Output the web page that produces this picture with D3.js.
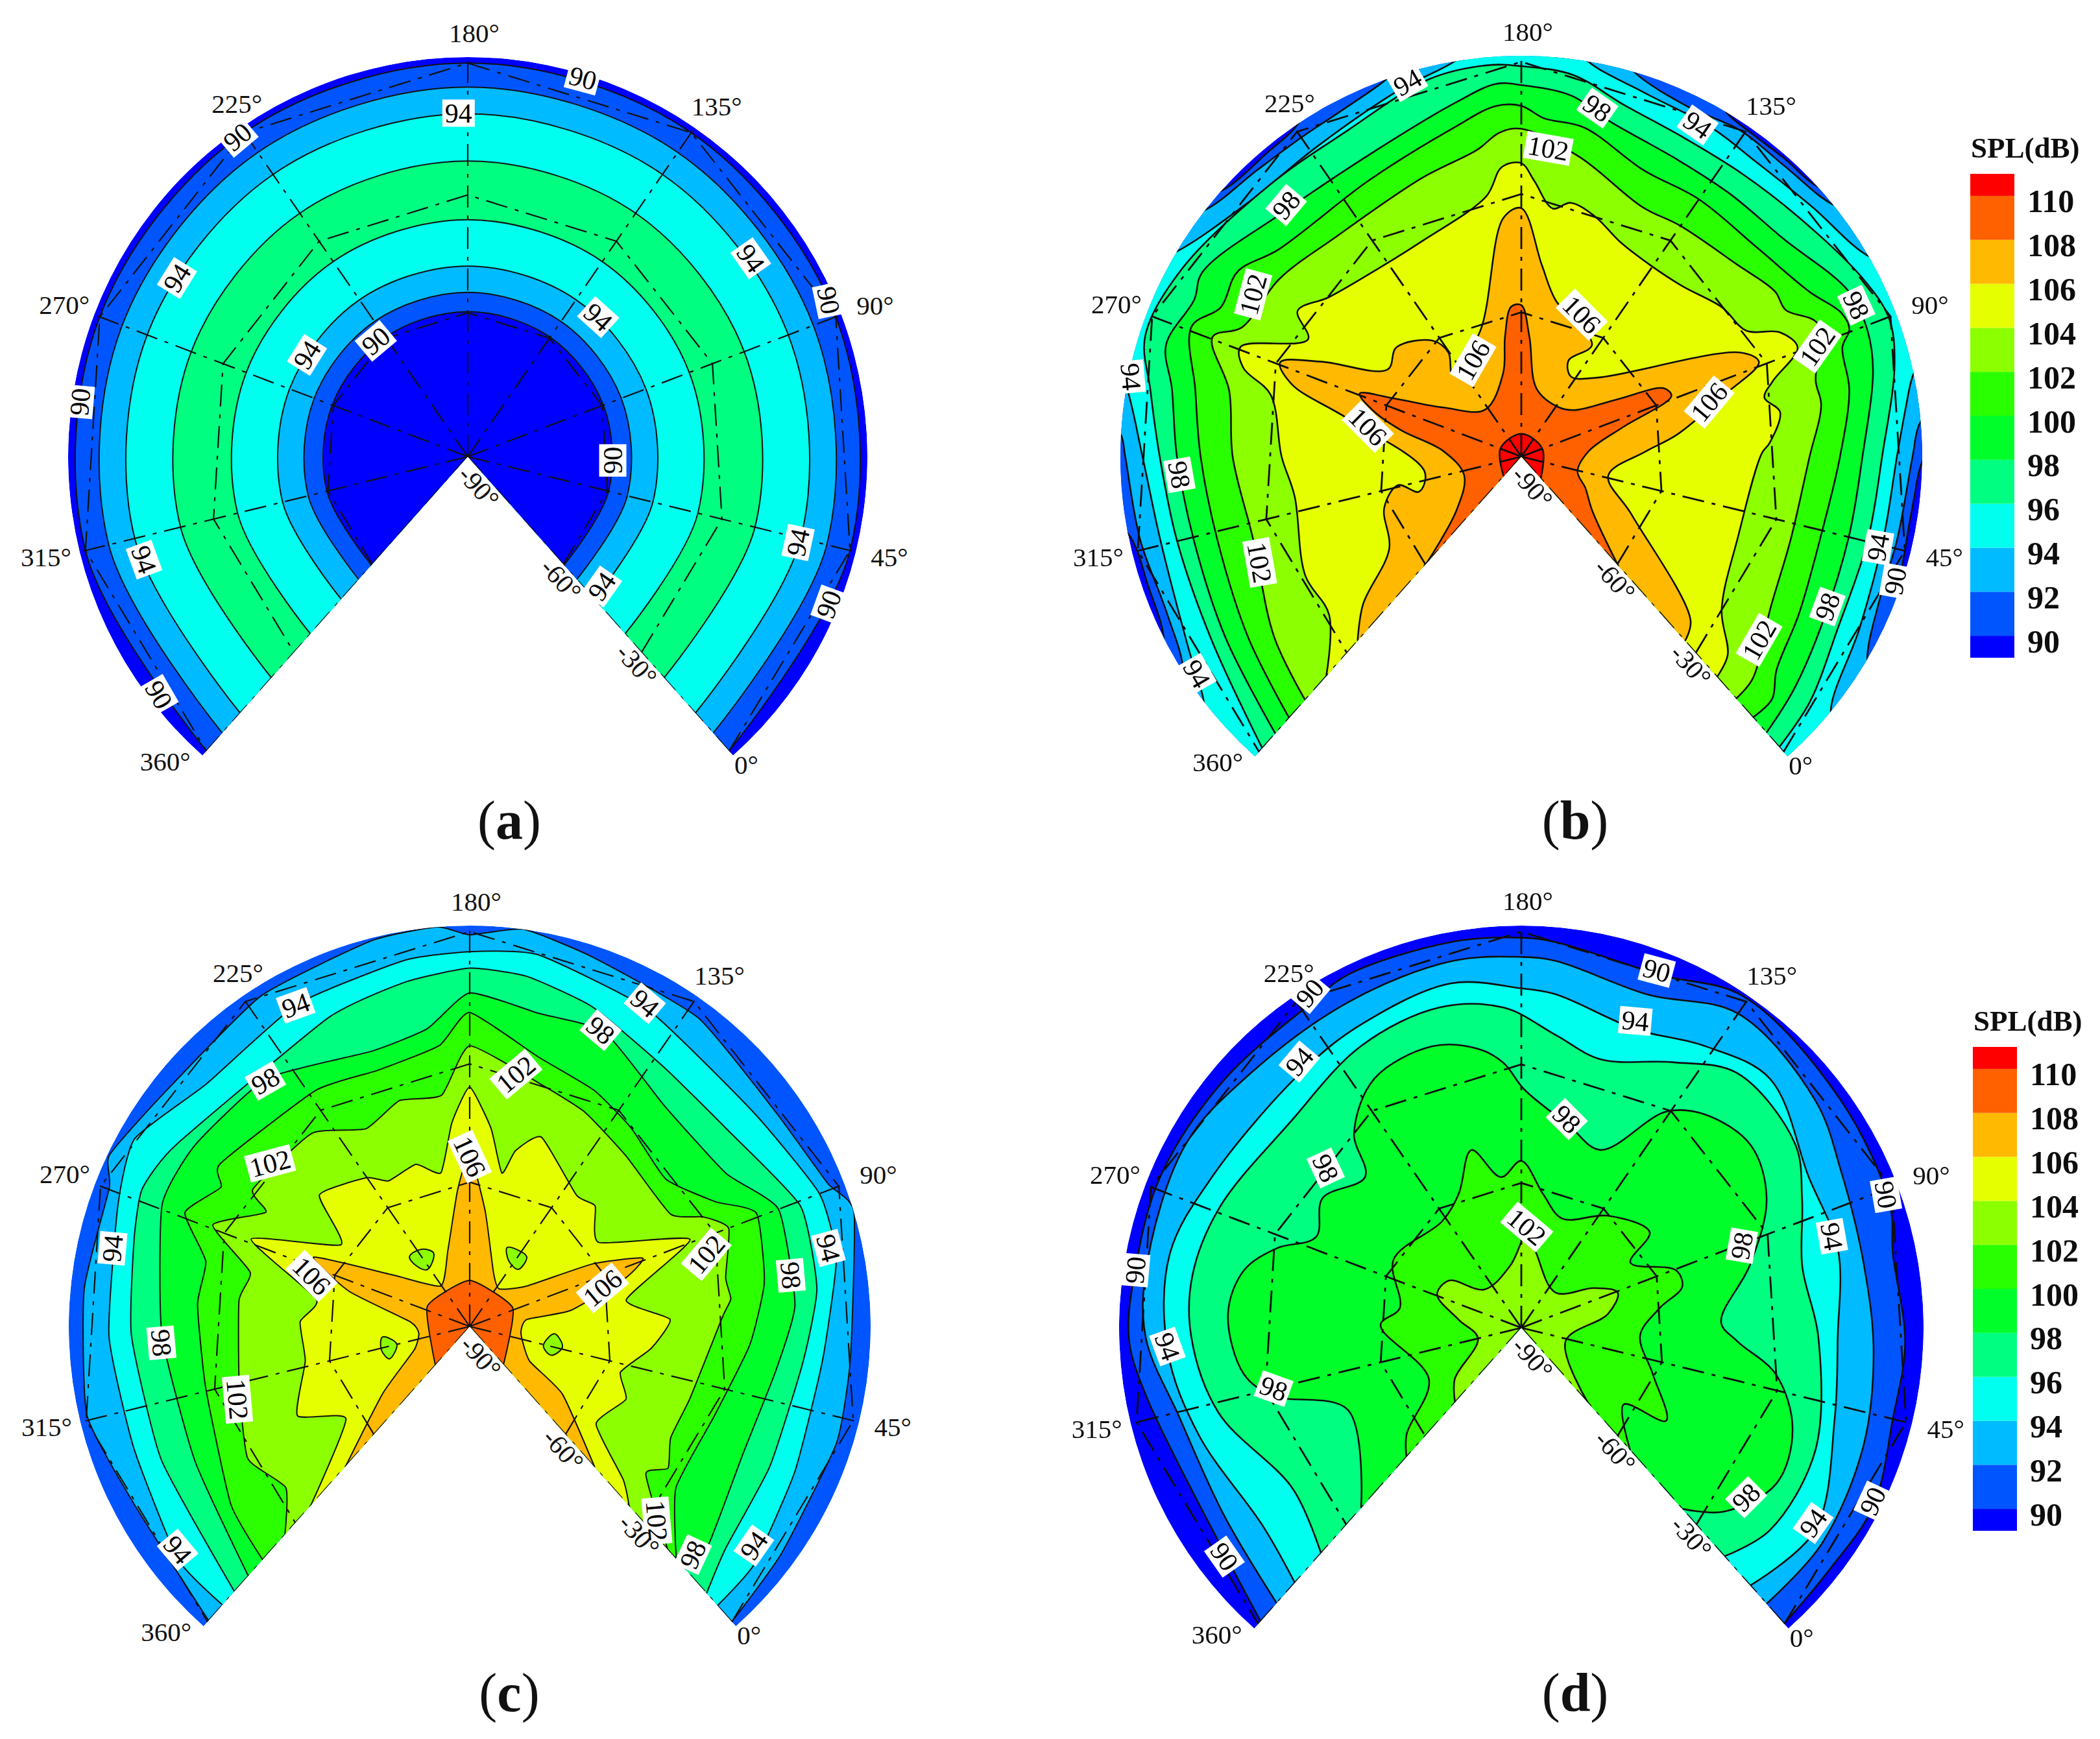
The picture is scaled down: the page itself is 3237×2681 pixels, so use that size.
<!DOCTYPE html>
<html>
<head>
<meta charset="utf-8">
<script src="https://cdn.jsdelivr.net/npm/d3@7"></script>
<style>
  body { margin: 0; background: #fff; }
  text { font-family: "Liberation Serif", serif; }
</style>
</head>
<body>
<script>
// Colour bands of the SPL scale
const levels = [90, 92, 94, 96, 98, 100, 102, 104, 106, 108, 110];
const bandColors = ["#0000ff", "#0055ff", "#00bbff", "#00ffee", "#00ff80", "#00ff2a", "#2bff00", "#8cff00", "#e6ff00", "#ffb900", "#ff6000", "#ff0000"];

// Axis labels
const azimuthTicks = [0, 45, 90, 135, 180, 225, 270, 315, 360];
const elevationTicks = ["-90°", "-60°", "-30°"];
const elevationRadius = [0.11, 0.42, 0.705];
const gridRings = [0.36, 0.655, 0.985];

// All contours: [azimuth in degrees, radius as fraction of the -90..0 elevation axis]

// Panel (a): concentric rings read along the 180 degree spoke
const ringAz = [0, 45, 90, 135, 180, 225, 270, 315, 360];
const aRadius = [0.985, 0.925, 0.858, 0.74, 0.593, 0.477, 0.411, 0.363];
const aInside = [91, 93, 95, 97, 95, 93, 91, 89];
const aLabels = [[158,.99,"90",15],[182,.86,"94",0],[226.5,.986,"90",-40],[108.5,.865,"94",55],[93.4,.984,"90",78],[256,.854,"94",-58],[255,.476,"94",-58],[124,.478,"94",42],[230,.37,"90",-40],[286.6,.98,"90",-85],[61,.363,"90",-90],[44,.854,"94",-78],[34,.976,"90",-70],[320,.85,"94",70],[346,.976,"90",60],[5.6,.467,"94",-55]];

// Panel (b)
const b90 = [[0,1.06],[32,1.06],[38,1],[45,.985],[55,.985],[62,1],[68,1.06],[112,1.06],[118,1],[126,.992],[134,.99],[140,1],[146,1.06],[218,1.06],[224,1],[232,.988],[243,1],[248,1.06],[306,1.06],[312,.996],[322,.985],[332,1],[338,1.06],[360,1.06]];
const b92 = [[0,1.06],[18,1.06],[24,.996],[33.6,.964],[47,.96],[63,.976],[69,.996],[74,1.06],[108,1.06],[113.6,1],[125.5,.978],[136,.98],[147,.967],[158.7,1],[164,1.06],[199,1.06],[204.7,1.005],[214.3,.975],[224.7,.967],[235.4,.972],[247.6,1],[253,1.06],[288,1.06],[293,1],[297,.988],[313,.973],[327.7,.966],[339,.997],[344,1.06],[360,1.06]];
const b94 = [[0,1.06],[8,1.06],[12,.996],[28,.946],[46.5,.926],[63,.937],[72,.965],[78,.996],[84,1.06],[98,1.06],[102,1],[116,.956],[130,.94],[141,.948],[155.5,.958],[167.5,1],[172,1.06],[187,1.06],[191.7,1.005],[204,.964],[223.7,.926],[240.9,.93],[257,1],[262,1.06],[278,1.06],[284,1],[297,.945],[314,.924],[336,.958],[346,1],[352,1.06],[360,1.06]];
const b96 = [[0,.969],[10.3,.945],[26,.898],[45,.889],[63,.9],[81,.959],[89.8,.98],[99,.96],[116,.914],[131,.895],[145,.893],[158.8,.914],[170,.961],[180,.974],[186.4,.98],[198,.969],[216.4,.922],[236,.924],[259.7,.968],[274,.985],[283.8,.94],[297,.902],[314.8,.884],[336.4,.897],[360,.973]];
const b98 = [[0,.921],[10.3,.894],[25.4,.858],[45,.841],[63,.851],[80.8,.903],[89,.919],[97.7,.915],[114.7,.85],[130,.837],[144,.837],[160.5,.864],[169.7,.909],[180,.927],[185,.932],[194,.897],[213.4,.845],[237,.85],[258,.919],[263.7,.905],[274.3,.929],[282.7,.888],[297,.859],[316,.843],[338,.865],[360,.924]];
const b100 = [[0,.87],[5.7,.87],[11,.83],[24.5,.796],[45,.773],[63,.795],[78,.835],[87.4,.846],[90.6,.878],[94.4,.875],[101.7,.828],[117,.786],[135,.78],[150,.777],[166,.836],[175,.846],[180,.875],[185.4,.877],[195,.838],[217.6,.787],[244.4,.796],[254,.845],[262.7,.837],[269,.884],[282,.83],[297,.8],[317,.786],[340.6,.817],[360,.872]];
const b102 = [[0,.807],[5.9,.8],[22,.728],[40.5,.703],[62.5,.718],[75.7,.759],[81.6,.758],[94.4,.81],[100.7,.754],[106,.755],[117,.721],[135.3,.699],[146.3,.692],[165.8,.762],[180,.818],[185,.81],[190.7,.773],[205.5,.738],[232,.717],[250,.749],[264.8,.768],[269.5,.826],[280.5,.747],[297,.72],[319.5,.7],[344,.763],[360,.812]];
const b104 = [[0,.735],[5.9,.714],[14.3,.629],[37,.576],[64,.6],[67,.62],[75.7,.655],[80.7,.624],[84.6,.654],[91,.741],[96.3,.716],[101,.643],[110.6,.624],[123.6,.585],[135.8,.576],[148,.59],[157.9,.627],[165.7,.645],[170.6,.624],[176.6,.69],[180,.732],[185,.724],[190,.655],[212,.592],[228,.589],[245.4,.623],[254,.666],[259.6,.607],[269.3,.752],[274,.728],[279,.644],[297,.598],[310,.574],[334.5,.615],[348.4,.621],[360,.733]];
const b106 = [[0,.615],[5.7,.587],[27,.31],[47,.222],[66,.31],[73.4,.392],[85,.53],[91.2,.638],[96,.605],[122.8,.274],[138.6,.235],[146,.267],[138,.33],[164,.4],[172,.48],[180,.62],[185.5,.598],[203.7,.329],[231.8,.269],[225.5,.317],[228.8,.365],[243.5,.414],[254,.398],[264,.552],[269.3,.646],[274.3,.6],[281,.443],[308.6,.244],[321.7,.27],[314,.316],[323.7,.365],[342.5,.402],[353,.54],[360,.615]];
const b108 = [[0,.364],[14.5,.222],[29,.178],[43.7,.145],[68.7,.168],[84,.264],[91.6,.404],[96.3,.394],[103,.28],[117,.175],[132.8,.154],[163.6,.174],[175,.3],[180,.378],[185,.375],[190,.303],[196,.213],[229,.148],[255,.229],[265,.347],[269.3,.433],[275,.383],[281,.306],[292,.194],[320.6,.15],[348.6,.21],[360,.357]];
const b110 = [[0,.073],[90,.056],[180,.057],[270,.056],[360,.066]];
const bLabels = [[202,.976,"94",-30],[164,.89,"98",35],[143.6,.937,"94",35],[173.5,.772,"102",10],[236,.859,"98",-50],[256.5,.782,"102",-75],[94.6,.917,"98",65],[89.5,.788,"102",-55],[150,.385,"106",45],[214.6,.269,"106",-60],[84,.488,"106",-50],[282.7,.39,"106",45],[282,.994,"94",85],[301,.854,"98",80],[325.7,.704,"102",80],[44.4,.918,"94",-80],[39,.983,"90",-80],[29,.85,"98",-70],[14,.749,"102",-60],[341,.974,"94",60]];

// Panel (c)
const c92 = [[0,.985],[16,.962],[40,.96],[56.5,.953],[84.5,1],[91.2,.962],[108.5,.932],[132.5,.958],[156,.971],[170,1],[180,.977],[186,1],[198.5,.993],[222,.975],[249,.96],[264,.995],[269.7,.963],[289.8,.966],[314,.98],[333.5,.947],[360,.981]];
const c94 = [[0,.931],[11,.925],[31.8,.888],[55.7,.884],[76.6,.93],[90,.933],[111,.887],[141.8,.907],[166.5,.943],[180,.935],[193,.928],[216.5,.912],[241.6,.893],[259,.958],[272.3,.928],[299,.9],[323,.891],[347.3,.931],[360,.929]];
const c96 = [[0,.89],[9.7,.845],[30.5,.826],[55,.836],[71,.871],[89,.878],[112,.808],[132,.808],[152.7,.854],[168,.885],[180,.894],[193.8,.874],[212,.847],[256,.862],[267.5,.886],[278,.865],[299,.844],[327.6,.838],[360,.884]];
const c98 = [[0,.81],[8,.806],[30.5,.752],[52,.771],[67.8,.813],[90,.824],[103,.745],[126,.734],[148,.808],[164,.8],[180,.832],[190.6,.75],[205.5,.729],[231,.799],[253.6,.821],[269,.825],[299,.768],[331,.763],[360,.832]];
const c100 = [[0,.776],[13.5,.653],[37,.65],[58,.7],[74,.743],[91,.769],[98,.687],[111,.612],[129,.638],[144,.666],[161.5,.694],[180,.783],[188,.705],[205.7,.679],[223,.703],[254,.743],[259,.711],[268.7,.765],[279,.678],[291,.681],[314,.676],[344.8,.743],[360,.778]];
const c102 = [[0,.744],[11,.573],[16.7,.608],[25.3,.573],[39.5,.578],[66,.632],[70.8,.655],[77,.65],[90,.691],[95.6,.644],[101,.574],[124.7,.577],[143.3,.607],[158.8,.63],[180,.7],[189,.581],[202.5,.59],[216,.557],[231,.622],[255,.64],[259,.583],[269,.689],[279,.564],[288.6,.579],[315,.592],[337,.644],[350.7,.61],[360,.694]];
const c104 = [[0,.599],[4.5,.541],[14,.398],[30.5,.43],[41,.393],[54,.456],[65.6,.5],[75.5,.396],[91,.591],[106,.384],[120,.434],[129,.422],[153,.505],[161,.453],[164.6,.391],[172,.497],[180,.597],[186.5,.51],[193.8,.39],[203.8,.426],[218,.416],[225,.451],[243.5,.498],[254.8,.38],[268.7,.587],[284,.388],[295,.423],[312.4,.419],[332.7,.484],[344.8,.385],[360,.597]];
const c106 = [[0,.47],[16,.286],[24,.172],[53,.129],[72,.143],[74.7,.255],[85.5,.408],[91,.464],[98,.345],[109,.174],[130.6,.119],[149,.147],[170,.29],[180,.432],[186.5,.343],[200.7,.198],[226,.124],[252.7,.228],[265.9,.426],[276,.312],[291.4,.148],[307,.128],[326.7,.15],[346,.274],[360,.466]];
const c108 = [[0,.127],[93,.117],[180,.115],[264,.117],[360,.129]];
const cIslands = [
  [[233,.23],[221.5,.227],[214,.204],[227.7,.177],[233.8,.202]],
  [[147,.218],[129,.225],[127.5,.187],[139.7,.19]],
  [[306,.219],[314.7,.187],[325.6,.216],[316,.228]],
  [[56.5,.212],[46.8,.237],[37.7,.216],[43.8,.19]]
];
const cLabels = [[217,.911,"94",-20],[143,.917,"94",40],[149,.808,"98",40],[166.5,.64,"102",-40],[231.7,.797,"98",-30],[246,.643,"102",-15],[180,.424,"106",65],[79,.916,"94",75],[281,.912,"94",-85],[85,.617,"102",-50],[74.7,.811,"98",85],[274,.414,"106",45],[84,.345,"106",-40],[301,.77,"98",85],[319.7,.607,"102",85],[3,.673,"102",85],[3.6,.796,"98",-65],[14,.895,"94",-55],[345.7,.917,"94",50]];

// Panel (d)
const d90 = [[0,.984],[13,.974],[28,.981],[45,.951],[60,.955],[77.7,.942],[87,.966],[109,.975],[136,.992],[152,.943],[173.5,.963],[180,.97],[193,.975],[214,.978],[222.5,.962],[245,.962],[267.6,.973],[287,.971],[299,.976],[309,.952],[347,.93],[360,.976]];
const d92 = [[0,.918],[16.5,.92],[38,.9],[57.7,.878],[76.5,.866],[96.8,.885],[112,.924],[135,.949],[153,.886],[173,.916],[180,.922],[194,.928],[216,.917],[241,.924],[259.7,.951],[284.7,.944],[299,.934],[316,.879],[339,.874],[360,.916]];
const d94 = [[0,.857],[18,.887],[42,.811],[60.5,.787],[81,.811],[99,.807],[121.5,.875],[137,.836],[152.7,.795],[172.5,.834],[180,.844],[195,.874],[216,.853],[232.5,.839],[263,.855],[281.6,.893],[302,.881],[321,.845],[346,.81],[360,.848]];
const d96 = [[0,.76],[12,.797],[33.5,.792],[60.5,.739],[79,.715],[95,.768],[107,.82],[127.6,.83],[141.4,.76],[158.5,.696],[171.3,.733],[184,.797],[198.7,.822],[218.5,.806],[243,.769],[269,.808],[285.4,.828],[299,.821],[317.4,.782],[342.8,.695],[360,.75]];
const d98 = [[0,.602],[8,.68],[22,.743],[36.3,.72],[49.4,.644],[58.3,.538],[65,.497],[83,.59],[99,.689],[113,.729],[127,.7],[136,.647],[148.8,.484],[162.8,.517],[179,.592],[185,.66],[191.5,.702],[202.8,.734],[219.8,.719],[233,.637],[239.8,.54],[254,.59],[266,.558],[273.6,.639],[281.8,.704],[293.5,.73],[309.5,.699],[317,.639],[330,.477],[360,.6]];
const d100 = [[0,.408],[15,.318],[20.4,.428],[37.6,.347],[58,.296],[73.4,.347],[81.6,.413],[89.5,.41],[103,.316],[110.7,.398],[131,.352],[153.3,.29],[168,.337],[180,.415],[190,.378],[200.4,.459],[212.5,.368],[227.6,.33],[260.5,.36],[285,.306],[295.6,.35],[335,.263],[352.8,.389],[360,.43]];
const d102 = [[0,.25],[40.9,.115],[74.7,.218],[89,.255],[100,.207],[122.8,.122],[165,.188],[175,.24],[192.7,.158],[237,.132],[254,.215],[269,.225],[287.5,.157],[315,.111],[346,.209],[360,.248]];
const dLabels = [[153,.95,"90",15],[153.5,.814,"94",5],[222,.985,"90",-50],[231.8,.862,"94",-50],[164,.531,"98",45],[246,.628,"98",65],[89,.965,"90",80],[84.3,.805,"94",80],[89.5,.585,"98",-80],[176,.251,"102",40],[286,.97,"90",-85],[301,.881,"94",70],[315,.634,"98",20],[14.8,.7,"98",-45],[19,.873,"94",-55],[28.8,.974,"90",-65],[346,.932,"90",55]];

// Value of the band inside each contour, outermost first
const panelA = aRadius.map((r, i) => [aInside[i], ringAz.map(az => [az, r])]);
const panelB = [[91,b90],[93,b92],[95,b94],[97,b96],[99,b98],[101,b100],[103,b102],[105,b104],[107,b106],[109,b108],[111,b110]];
const panelC = [[93,c92],[95,c94],[97,c96],[99,c98],[101,c100],[103,c102],[105,c104],[107,c106],[109,c108]];
const panelD = [[91,d90],[93,d92],[95,d94],[97,d96],[99,d98],[101,d100],[103,d102]];

const width = 3237, height = 2681;
const wedge = 138.4 * Math.PI / 180; // half opening of the fan

// Small nudges of the azimuth labels, they are not quite radial in the figure
const azLabelDx = { 0: 0, 45: 4, 90: 6, 135: 6, 180: 10, 225: 22, 270: 0, 315: -4, 360: -37 };
const azLabelDy = { 0: -9, 45: -4, 90: 3, 135: 8, 180: 12, 225: 4, 270: 2, 315: -4, 360: -14 };

const svg = d3.select("body").append("svg")
  .attr("width", width)
  .attr("height", height)
  .style("display", "block");

svg.append("rect").attr("width", width).attr("height", height).attr("fill", "#fff");

const defs = svg.append("defs");
defs.append("filter").attr("id", "soft")
  .append("feGaussianBlur").attr("stdDeviation", 0.7);

const color = d3.scaleThreshold().domain(levels).range(bandColors);
const azScale = d3.scaleLinear().domain([0, 360]).range([wedge, -wedge]);

function drawPanel(id, cx, cy, R, baseValue, table, labels, opts) {
  const rScale = d3.scaleLinear().domain([0, 1]).range([0, R]);
  const g = svg.append("g").attr("transform", `translate(${cx},${cy})`);
  if (opts.soft) g.attr("filter", "url(#soft)");
  const lineWidth = opts.soft ? 2.6 : 2;

  const sector = d3.arc()({ innerRadius: 0, outerRadius: R, startAngle: -wedge, endAngle: wedge });
  defs.append("clipPath").attr("id", "clip-" + id).append("path").attr("d", sector);

  const body = g.append("g").attr("clip-path", `url(#clip-${id})`);
  body.append("path").attr("d", sector).attr("fill", color(baseValue));

  const line = d3.lineRadial()
    .angle(d => azScale(d[0]))
    .radius(d => rScale(d[1]))
    .curve(opts.curve);

  // Painted from the outside in, each contour closed through the fan centre
  table.forEach(([value, pts]) => {
    body.append("path")
      .attr("d", line(pts) + "L0,0Z")
      .attr("fill", color(value));
    body.append("path")
      .attr("d", line(pts))
      .attr("fill", "none")
      .attr("stroke", "#111")
      .attr("stroke-width", lineWidth);
  });

  // Small closed islands
  const closedLine = d3.lineRadial()
    .angle(d => azScale(d[0]))
    .radius(d => rScale(d[1]))
    .curve(d3.curveCatmullRomClosed);
  (opts.islands || []).forEach(pts => {
    body.append("path")
      .attr("d", closedLine(pts))
      .attr("fill", color(103))
      .attr("stroke", "#111")
      .attr("stroke-width", lineWidth);
  });

  // Dash-dot measuring grid
  const gridStyle = sel => sel
    .attr("fill", "none")
    .attr("stroke", "#111")
    .attr("stroke-width", lineWidth + 0.2)
    .attr("stroke-dasharray", "34 12 6 12");

  const ringLine = d3.lineRadial().angle(d => azScale(d[0])).radius(d => rScale(d[1]));
  gridRings.forEach(r => {
    body.append("path").attr("d", ringLine(azimuthTicks.map(az => [az, r]))).call(gridStyle);
  });
  azimuthTicks.forEach(az => {
    body.append("path").attr("d", ringLine([[az, 0], [az, 1]])).call(gridStyle);
  });

  // Contour labels with their white boxes
  labels.forEach(([az, r, text, rot]) => {
    const [x, y] = d3.pointRadial(azScale(az), rScale(r));
    const lab = g.append("g").attr("transform", `translate(${x},${y}) rotate(${rot})`);
    lab.append("rect")
      .attr("x", -text.length * 11 - 3)
      .attr("y", -21)
      .attr("width", text.length * 22 + 6)
      .attr("height", 42)
      .attr("fill", "#fff");
    lab.append("text")
      .attr("text-anchor", "middle")
      .attr("dy", "0.34em")
      .attr("font-size", 42)
      .attr("fill", "#000")
      .text(text);
  });

  // Azimuth tick labels around the fan
  azimuthTicks.forEach(az => {
    const far = (az === 0 || az === 360) ? 1.05 : 1.08;
    const [x, y] = d3.pointRadial(azScale(az), rScale(far));
    g.append("text")
      .attr("x", x + azLabelDx[az])
      .attr("y", y + azLabelDy[az])
      .attr("dy", "0.34em")
      .attr("text-anchor", "middle")
      .attr("font-size", 41)
      .attr("fill", "#111")
      .text(az + "°");
  });

  // Elevation tick labels along the right edge of the cut
  elevationTicks.forEach((t, i) => {
    const [x, y] = d3.pointRadial(azScale(0), rScale(elevationRadius[i]));
    g.append("text")
      .attr("transform", `translate(${x - 28},${y - 4}) rotate(48)`)
      .attr("dy", "0.34em")
      .attr("text-anchor", "middle")
      .attr("font-size", 41)
      .attr("fill", "#111")
      .text(t);
  });

  // Panel letter
  const title = svg.append("text")
    .attr("x", opts.titleX)
    .attr("y", opts.titleY)
    .attr("text-anchor", "middle")
    .attr("font-size", 84)
    .attr("fill", "#111");
  title.append("tspan").text("(");
  title.append("tspan").attr("font-weight", "bold").text(id);
  title.append("tspan").text(")");
}

function drawLegend(x, top, bottom) {
  const w = 68;
  const y = d3.scaleLinear().domain([89, 111]).range([bottom, top]);
  const g = svg.append("g").attr("filter", "url(#soft)");

  // Half bands at both ends of the scale
  const edges = [89].concat(levels, [111]);
  edges.slice(0, -1).forEach((lo, i) => {
    g.append("rect")
      .attr("x", x)
      .attr("y", y(edges[i + 1]))
      .attr("width", w)
      .attr("height", y(lo) - y(edges[i + 1]))
      .attr("fill", bandColors[i]);
  });

  const axis = d3.axisRight(y).tickValues(levels).tickSize(0).tickPadding(0);
  g.append("g")
    .attr("transform", `translate(${x + w + 20},9)`)
    .call(axis)
    .call(a => a.select(".domain").remove())
    .selectAll("text")
    .attr("font-size", 50)
    .attr("font-weight", "bold")
    .attr("fill", "#111");

  g.append("text")
    .attr("x", x + 1)
    .attr("y", top - 25)
    .attr("font-size", 45)
    .attr("font-weight", "bold")
    .attr("fill", "#111")
    .text("SPL(dB)");
}

const smooth = d3.curveCatmullRom.alpha(0.5);
drawPanel("a", 721, 704, 616, 89, panelA, aLabels,
  { curve: smooth, titleX: 785, titleY: 1293 });
drawPanel("b", 2345, 704, 618, 89, panelB, bLabels,
  { curve: smooth, titleX: 2428, titleY: 1293, soft: true });
drawPanel("c", 724, 2045, 618, 91, panelC, cLabels,
  { curve: d3.curveCardinal.tension(0.5), islands: cIslands, titleX: 785, titleY: 2638 });
drawPanel("d", 2345, 2047, 620, 89, panelD, dLabels,
  { curve: smooth, titleX: 2428, titleY: 2638, soft: true });

drawLegend(3037, 268, 1014);
drawLegend(3041, 1614, 2360);
</script>
</body>
</html>
